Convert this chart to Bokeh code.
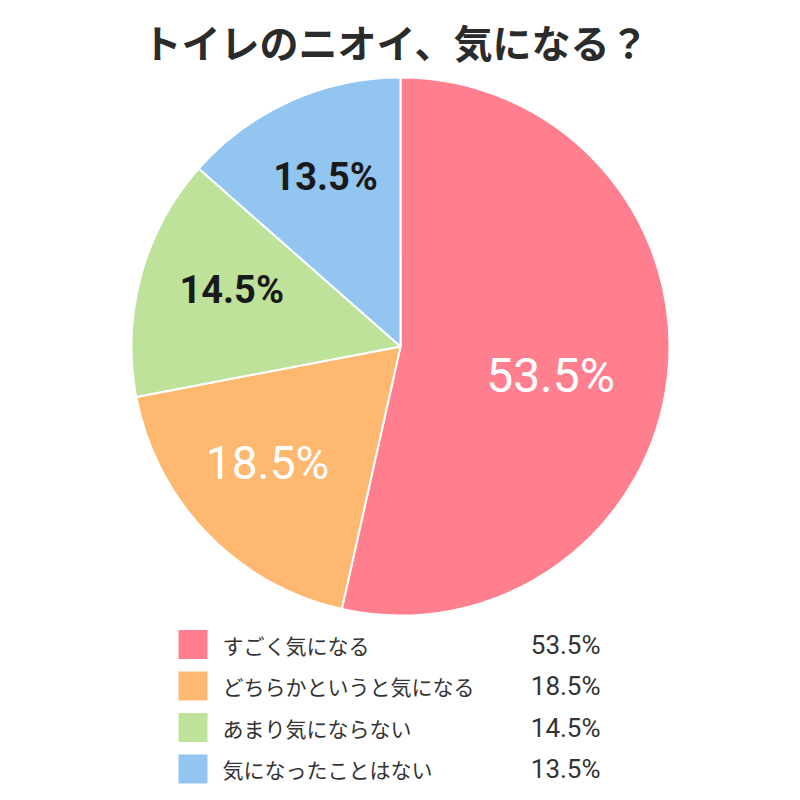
import numpy as np
from bokeh.plotting import figure
from bokeh.models import Range1d, ColumnDataSource
from bokeh.core.properties import value
from bokeh.embed import file_html
from bokeh.resources import INLINE

# ---- data ----
title_text = "トイレのニオイ、気になる？"
categories = ["すごく気になる", "どちらかというと気になる", "あまり気にならない", "気になったことはない"]
percents = [53.5, 18.5, 14.5, 13.5]
colors = ["#FF7F8E", "#FFB870", "#BEE29A", "#92C5F0"]
pie_label_colors = ["white", "white", "#1a1a1a", "#1a1a1a"]

# ---- layout ----
W = H = 784
CX, CY, R = 400, 438, 269
label_r = [0.568, 0.658, 0.662, 0.69]
label_rot = [-4.6, -2.8, -3.3, -0.5]
label_sizes = ["48px", "46px", "38px", "38px"]
label_styles = ["normal", "normal", "bold", "bold"]

p = figure(width=W, height=H, output_backend="svg", toolbar_location=None,
           x_range=Range1d(0, W), y_range=Range1d(0, H), min_border=0)
p.axis.visible = False
p.grid.visible = False
p.outline_line_color = None
p.background_fill_color = "white"
p.border_fill_color = "white"

vals = np.array(percents)
frac = vals / vals.sum()
ends = np.pi / 2 - 2 * np.pi * np.cumsum(frac)
starts = np.concatenate([[np.pi / 2], ends[:-1]])

src = ColumnDataSource(dict(start=ends, end=starts, color=colors))
p.wedge(x=CX, y=CY, radius=R, start_angle="start", end_angle="end",
        fill_color="color", line_color="white", line_width=2, source=src)

mids = (starts + ends) / 2
for i in range(len(percents)):
    a = mids[i] + np.deg2rad(label_rot[i])
    lx = CX + label_r[i] * R * np.cos(a)
    ly = CY + label_r[i] * R * np.sin(a)
    p.text(x=[lx], y=[ly], text=[f"{percents[i]}%"], text_align="center",
           text_baseline="middle", text_color=pie_label_colors[i],
           text_font=value("Roboto"), text_font_size=label_sizes[i],
           text_font_style=label_styles[i])

# title
p.text(x=[W / 2 + 3], y=[H - 40], text=[title_text], text_align="center",
       text_baseline="middle", text_color="#2b2b2b",
       text_font=value("Noto Sans CJK JP"), text_font_size="39px",
       text_font_style="bold")

# legend
row_y = [140 - 41.5 * i for i in range(len(categories))]
p.rect(x=[192.5] * 4, y=row_y, width=29, height=29, fill_color=colors,
       line_color=None)
p.text(x=[222] * 4, y=row_y, text=categories, text_align="left",
       text_baseline="middle", text_color="#333333",
       text_font=value("Noto Sans CJK JP"), text_font_size="21px")
p.text(x=[600] * 4, y=row_y, text=[f"{v}%" for v in percents], text_align="right",
       text_baseline="middle", text_color="#333333",
       text_font=value("Roboto"), text_font_size="26px")

open("out.html", "w").write(file_html(p, INLINE))
